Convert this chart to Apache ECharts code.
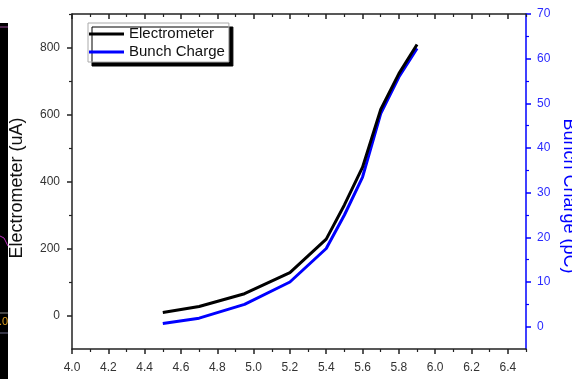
<!DOCTYPE html>
<html><head><meta charset="utf-8">
<script src="https://cdn.jsdelivr.net/npm/echarts@6/dist/echarts.min.js"></script>
<style>html,body{margin:0;padding:0;background:#fff}#c{width:572px;height:379px}</style>
</head><body><div id="c"></div>
<script>
const voltage = [4.5, 4.7, 4.95, 5.2, 5.4, 5.5, 5.6, 5.7, 5.8, 5.9];
const electrometer = [9, 27, 65, 128, 228, 330, 443, 615, 722, 809];
const bunchCharge = [0.7, 1.9, 5.0, 10.0, 17.5, 25.0, 33.5, 47.7, 55.9, 62.3];
const xMajor = [4.0, 4.2, 4.4, 4.6, 4.8, 5.0, 5.2, 5.4, 5.6, 5.8, 6.0, 6.2, 6.4];
const xMinor = [4.1, 4.3, 4.5, 4.7, 4.9, 5.1, 5.3, 5.5, 5.7, 5.9, 6.1, 6.3, 6.5];
const leftMajor = [0, 200, 400, 600, 800];
const leftMinor = [100, 300, 500, 700, 900];
const rightMajor = [0, 10, 20, 30, 40, 50, 60, 70];
const rightMinor = [5, 15, 25, 35, 45, 55, 65];
const leftTitle = 'Electrometer (uA)';
const rightTitle = 'Bunch Charge (pC)';

const FONT = "'Liberation Sans', Arial, sans-serif";
const AX = '#222';
const BLUE = '#0000ff';

function hiddenAxis(extra) {
  return Object.assign({
    type: 'value', axisLine: {show: false, onZero: false}, axisLabel: {show: false}, splitLine: {show: false}
  }, extra);
}

const chart = echarts.init(document.getElementById('c'), null, {renderer: 'canvas'});
chart.setOption({
  animation: false,
  textStyle: {fontFamily: FONT},
  grid: {left: 72, right: 46, top: 14, bottom: 30, containLabel: false, outerBoundsMode: 'none'},
  legend: {
    data: ['Electrometer', 'Bunch Charge'],
    orient: 'vertical', left: 88, top: 23,
    icon: 'rect', itemWidth: 35, itemHeight: 3, itemGap: 0,
    textStyle: {fontSize: 15, color: '#111', lineHeight: 18, fontFamily: FONT},
    padding: [2, 4, 1, 1],
    backgroundColor: '#fff', borderColor: '#aaa', borderWidth: 1,
    shadowColor: '#000', shadowOffsetX: 4, shadowOffsetY: 4, shadowBlur: 0
  },
  xAxis: [
    {type: 'value', position: 'bottom', min: 4, max: 6.5,
     axisLine: {onZero: false, lineStyle: {color: AX, width: 1.5}},
     axisTick: {customValues: xMajor, length: 5, lineStyle: {color: AX, width: 1.5}},
     axisLabel: {customValues: xMajor, formatter: v => v.toFixed(1), fontSize: 12, color: '#333', margin: 13},
     splitLine: {show: false}},
    hiddenAxis({position: 'bottom', min: 4, max: 6.5,
     axisTick: {customValues: xMinor, length: 3, lineStyle: {color: AX, width: 1.2}}}),
    {type: 'value', position: 'top', min: 4, max: 6.5,
     axisLine: {onZero: false, lineStyle: {color: AX, width: 1.5}},
     axisTick: {customValues: xMajor, inside: true, length: 5, lineStyle: {color: AX, width: 1.5}},
     axisLabel: {show: false}, splitLine: {show: false}},
    hiddenAxis({position: 'top', min: 4, max: 6.5,
     axisTick: {customValues: xMinor, inside: true, length: 3, lineStyle: {color: AX, width: 1.2}}})
  ],
  yAxis: [
    {type: 'value', position: 'left', min: -100, max: 900,
     axisLine: {show: true, onZero: false, lineStyle: {color: AX, width: 1.5}},
     axisTick: {show: true, customValues: leftMajor, length: 5, lineStyle: {color: AX, width: 1.5}},
     axisLabel: {customValues: leftMajor, fontSize: 12, color: '#333', margin: 12},
     splitLine: {show: false}},
    hiddenAxis({position: 'left', min: -100, max: 900,
     axisTick: {show: true, customValues: leftMinor, length: 3, lineStyle: {color: AX, width: 1.2}}}),
    {type: 'value', position: 'right', min: -5, max: 70,
     axisLine: {show: true, onZero: false, lineStyle: {color: BLUE, width: 1.5}},
     axisTick: {show: true, customValues: rightMajor, length: 5, lineStyle: {color: BLUE, width: 1.5}},
     axisLabel: {customValues: rightMajor, fontSize: 12, color: '#2a2aff', margin: 11},
     splitLine: {show: false}},
    hiddenAxis({position: 'right', min: -5, max: 70,
     axisTick: {show: true, customValues: rightMinor, length: 3, lineStyle: {color: BLUE, width: 1.2}}})
  ],
  series: [
    {name: 'Electrometer', type: 'line', xAxisIndex: 0, yAxisIndex: 0, z: 3,
     data: voltage.map((v, i) => [v, electrometer[i]]),
     symbol: 'none', color: '#000', lineStyle: {color: '#000', width: 3}},
    {name: 'Bunch Charge', type: 'line', xAxisIndex: 0, yAxisIndex: 2, z: 2,
     data: voltage.map((v, i) => [v, bunchCharge[i]]),
     symbol: 'none', color: BLUE, lineStyle: {color: BLUE, width: 3}}
  ],
  graphic: [
    {type: 'text', x: 17, y: 188, rotation: Math.PI / 2,
     style: {text: leftTitle, fill: '#111', font: '18px ' + FONT, align: 'center', verticalAlign: 'middle'}},
    {type: 'text', x: 569, y: 196, rotation: -Math.PI / 2,
     style: {text: rightTitle, fill: BLUE, font: '18px ' + FONT, align: 'center', verticalAlign: 'middle'}},
    {type: 'rect', shape: {x: 0, y: 23, width: 8, height: 356}, style: {fill: '#000'}, silent: true},
    {type: 'line', shape: {x1: 0, y1: 27, x2: 8, y2: 27}, style: {stroke: '#9a4a9a', lineWidth: 1}},
    {type: 'line', shape: {x1: 0, y1: 313, x2: 8, y2: 313}, style: {stroke: '#8a8a8a', lineWidth: 1}},
    {type: 'line', shape: {x1: 0, y1: 333, x2: 8, y2: 333}, style: {stroke: '#6a6a8a', lineWidth: 1}},
    {type: 'polyline', shape: {points: [[0, 236], [4, 238], [8, 246]]}, style: {stroke: '#c030c0', lineWidth: 1}},
    {type: 'text', x: -1, y: 316, style: {text: '.0', fill: '#e0a020', font: '11px ' + FONT}}
  ]
});
</script></body></html>
